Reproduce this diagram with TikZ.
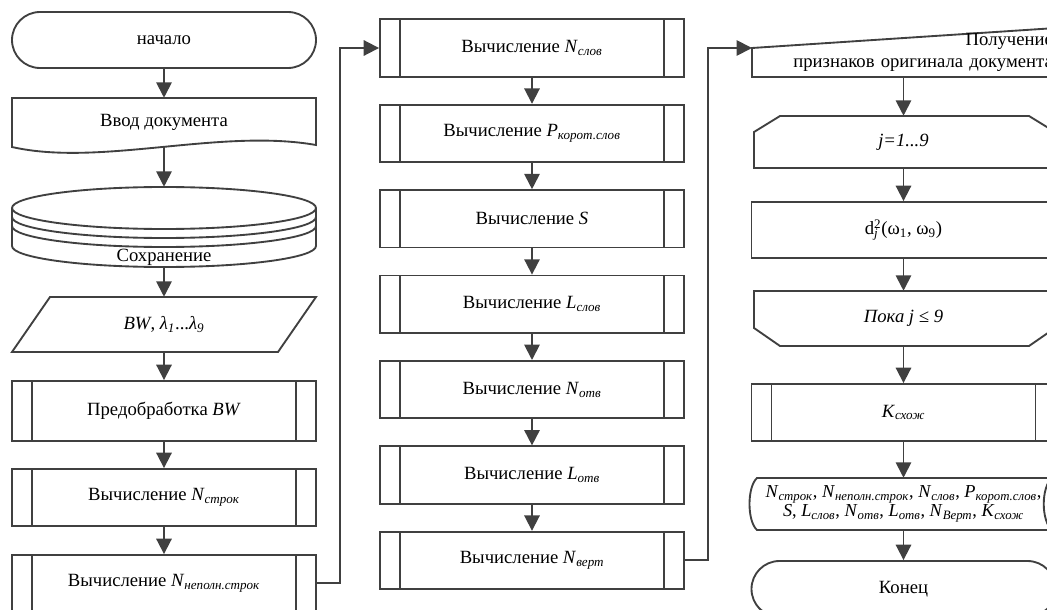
\documentclass[tikz,border=0pt]{standalone}
\usepackage{fontspec}
\setmainfont{Liberation Serif}
\usetikzlibrary{arrows.meta}
\newcommand\isub[2]{\textit{#1}\textsubscript{\textit{#2}}}
\definecolor{ln}{HTML}{404040}
\begin{document}
\begin{tikzpicture}[x=0.75pt,y=-0.75pt,
  every node/.style={font=\fontsize{14}{16}\selectfont, inner sep=0pt, text=black},
  lnk/.style={draw=ln, line width=1.4pt},
  arr/.style={lnk, -{Triangle[length=11.5pt,width=11.5pt]}},
  ghost/.style={minimum width=228pt},
  box/.style={draw=ln, line width=1.4pt, fill=white, minimum width=228pt, minimum height=43pt},
  predef/.style={box, path picture={\draw[ln, line width=1.4pt]
      ([xshift=15pt]path picture bounding box.north west) -- ([xshift=15pt]path picture bounding box.south west)
      ([xshift=-15pt]path picture bounding box.north east) -- ([xshift=-15pt]path picture bounding box.south east);}},
  term/.style={box, rounded corners=21pt},
]
\useasboundingbox (0,0) rectangle (1047,610);
\clip (0,0) rectangle (1047,610);

% ---------- left column ----------
\node[term, minimum height=42pt] (start) at (164,40) {начало};

\draw[lnk, fill=white] (12,147) -- (12,98) -- (316,98) -- (316,145)
  .. controls (220,128) and (100,167) .. (12,147) -- cycle;
\node[ghost, minimum height=36pt] (doc) at (164,122) {Ввод документа};

\fill[white] (12,208) -- (12,246) arc[start angle=180,end angle=360,x radius=114pt,y radius=15.75pt]
  -- (316,208) arc[start angle=0,end angle=180,x radius=114pt,y radius=15.75pt] -- cycle;
\draw[lnk] (164,208) ellipse[x radius=114pt,y radius=15.75pt];
\draw[lnk] (12,217) arc[start angle=180,end angle=360,x radius=114pt,y radius=15.75pt];
\draw[lnk] (12,226) arc[start angle=180,end angle=360,x radius=114pt,y radius=15.75pt];
\draw[lnk] (12,208) -- (12,246) arc[start angle=180,end angle=360,x radius=114pt,y radius=15.75pt] -- (316,208);
\node[ghost, minimum height=60pt] (disk) at (164,227) {};
\node (disktxt) at (164,257) {Сохранение};

\draw[lnk, fill=white] (50,297) -- (316,297) -- (278,352) -- (12,352) -- cycle;
\node[ghost, minimum height=41.25pt] (para) at (164,324.5) {\textit{BW}, \textit{λ}\textsubscript{\textit{1}}...\textit{λ}\textsubscript{\textit{9}}};

\node[predef, minimum height=45pt] (pre) at (164,411) {Предобработка \textit{BW}};
\node[predef, minimum height=42.75pt] (str) at (164,497.5) {Вычисление \isub{N}{строк}};
\node[predef, minimum height=42pt] (nep) at (164,583) {Вычисление \isub{N}{неполн.строк}};

\draw[arr] (start) -- (doc);
\draw[arr] (doc.south) -- (disk.north);
\draw[arr] (disk.south) -- (para.north);
\draw[arr] (para.south) -- (pre.north);
\draw[arr] (pre) -- (str);
\draw[arr] (str) -- (nep);

% ---------- middle column ----------
\begin{scope}[every node/.append style={minimum width=226.5pt, minimum height=43.5pt}]
\node[predef] (m1) at (532,48) {Вычисление \isub{N}{слов}};
\node[predef] (m2) at (532,133.4) {Вычисление \isub{P}{корот.слов}};
\node[predef] (m3) at (532,218.8) {Вычисление \textit{S}};
\node[predef] (m4) at (532,304.2) {Вычисление \isub{L}{слов}};
\node[predef] (m5) at (532,389.6) {Вычисление \isub{N}{отв}};
\node[predef] (m6) at (532,475) {Вычисление \isub{L}{отв}};
\node[predef] (m7) at (532,560.4) {Вычисление \isub{N}{верт}};
\end{scope}
\foreach \a/\b in {m1/m2,m2/m3,m3/m4,m4/m5,m5/m6,m6/m7} \draw[arr] (\a) -- (\b);

\coordinate (cL) at (340,48);
\draw[arr] (nep.east) -| (cL) -- (m1.west);

% ---------- right column ----------
\draw[lnk, fill=white] (752,77) -- (752,48) -- (1056,28) -- (1056,77) -- cycle;
\coordinate (getin) at (752,48);
\node[text width=224pt, align=right, minimum height=36.75pt] (get) at (903.5,52.5)
  {Получение\\признаков оригинала документа};

\coordinate (cR) at (708,48);
\draw[arr] (m7.east) -| (cR) -- (getin);

\draw[lnk, fill=white] (754,168) -- (754,132) -- (780,116) -- (1029,116) -- (1055,132) -- (1055,168) -- cycle;
\node[ghost, minimum height=39pt] (loop) at (903.5,142) {\textit{j=1...9}};

\node[box, minimum height=42pt] (dd) at (903.5,230)
  {d\rlap{\textsubscript{\textit{j}}}\textsuperscript{2}(ω\textsubscript{1}, ω\textsubscript{9})};

\draw[lnk, fill=white] (754,291) -- (1055,291) -- (1055,328) -- (1029,346) -- (780,346) -- (754,328) -- cycle;
\node[ghost, minimum height=41.25pt] (until) at (903.5,318.5) {\textit{Пока j ≤ 9}};

\node[predef, minimum height=42.75pt] (K) at (903.5,412.5) {\isub{K}{схож}};

\draw[lnk, fill=white] (757,478) -- (1052,478) .. controls (1041,487) and (1041,521) .. (1052,530)
  -- (757,530) .. controls (747,521) and (747,487) .. (757,478) -- cycle;
\node[ghost, minimum height=39pt, align=center, font=\fontsize{13.7}{11.5}\selectfont] (stored) at (903.5,504)
  {\isub{N}{строк}, \isub{N}{неполн.строк}, \isub{N}{слов}, \isub{P}{корот.слов},\\
   \textit{S}, \isub{L}{слов}, \isub{N}{отв}, \isub{L}{отв}, \isub{N}{Верт}, \isub{K}{схож}};

\node[term, minimum height=42pt] (end) at (903.5,589) {Конец};

\draw[arr] (get.south) -- (loop.north);
\draw[arr] (loop) -- (dd);
\draw[arr] (dd) -- (until);
\draw[arr] (until) -- (K);
\draw[arr] (K) -- (stored);
\draw[arr] (stored) -- (end);
\end{tikzpicture}
\end{document}
